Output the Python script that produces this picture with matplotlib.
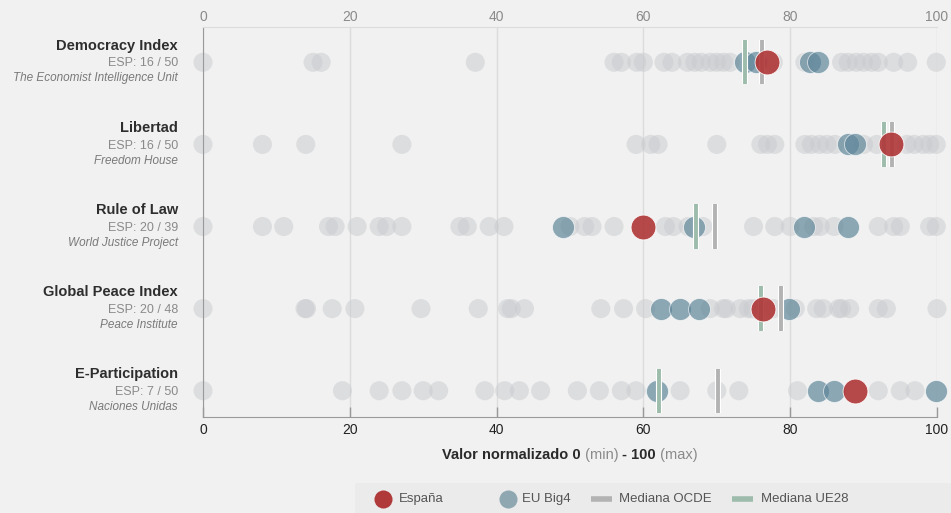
import matplotlib
matplotlib.use("Agg")
import matplotlib.pyplot as plt
import matplotlib.patheffects as pe
from matplotlib.lines import Line2D
from matplotlib.patches import Rectangle

plt.rcParams['font.family'] = ['Liberation Sans', 'DejaVu Sans']

# Indices (normalized 0-100)
indices = ["Democracy Index", "Libertad", "Rule of Law", "Global Peace Index", "E-Participation"]
ranks = ["ESP: 16 / 50", "ESP: 16 / 50", "ESP: 20 / 39", "ESP: 20 / 48", "ESP: 7 / 50"]
sources = ["The Economist Intelligence Unit", "Freedom House", "World Justice Project",
           "Peace Institute", "Naciones Unidas"]

others = [
    [0, 15.0, 16.1, 37.1, 56.0, 57.0, 59.1, 60.0, 62.8, 63.9, 66.0, 67.0, 67.9, 69.1,
     70.0, 70.9, 71.8, 77.7, 82.0, 87.0, 87.9, 89.0, 90.0, 91.1, 92.0, 94.1, 96.0, 99.9],
    [0, 8.1, 14.0, 27.1, 59.0, 61.0, 62.0, 70.0, 76.0, 76.9, 77.9, 82.0, 82.9, 84.0,
     85.0, 86.1, 90.0, 91.8, 95.9, 96.9, 98.1, 99.0, 99.9],
    [0, 8.1, 11.0, 17.1, 18.0, 21.0, 24.0, 25.0, 27.1, 35.0, 36.0, 39.0, 41.0, 50.0,
     52.0, 53.0, 56.0, 63.0, 64.1, 66.1, 68.1, 75.0, 77.9, 80.0, 83.2, 84.1, 86.0,
     92.0, 94.1, 95.0, 99.0, 99.9],
    [0, 13.9, 14.1, 17.6, 20.7, 29.7, 37.5, 41.5, 42.0, 43.8, 54.2, 57.3, 60.3, 69.1,
     70.9, 71.3, 73.2, 74.3, 74.9, 77.7, 80.7, 83.6, 84.5, 86.6, 87.0, 88.1, 92.0,
     93.1, 100],
    [0, 19.0, 24.0, 27.1, 30.0, 32.1, 38.4, 41.1, 43.1, 46.0, 51.0, 54.0, 57.0, 59.0,
     65.0, 70.0, 73.0, 81.0, 92.0, 95.0, 97.0],
]
big4 = [
    [73.8, 75.4, 82.7, 83.8],
    [87.9, 88.8],
    [49.0, 66.9, 81.9, 87.9],
    [62.4, 65.0, 67.6, 79.8],
    [61.9, 83.8, 85.9, 99.8],
]
espana = [76.9, 93.8, 60.0, 76.3, 88.8]
median_ocde = [76.2, 93.9, 69.8, 78.8, 70.2]
median_ue28 = [73.9, 92.8, 67.1, 76.0, 62.1]
xticks = [0, 20, 40, 60, 80, 100]

BG = "#f1f1f1"
RED = "#b0393a"
BLUE = "#5d8598"
GREY_DOT = "#c9cbce"
OCDE_C = "#b3b3b3"
UE28_C = "#9dbcab"

fig = plt.figure(figsize=(9.51, 5.13), dpi=100, facecolor=BG)
W, H = 951, 513
ax = fig.add_axes([203 / W, 1 - 417 / H, 734 / W, 390 / H], facecolor=BG)

bar_fx = [pe.Stroke(linewidth=4.4, foreground="white"), pe.Normal()]
for i in range(len(indices)):
    ax.scatter(others[i], [i] * len(others[i]), s=190, color=GREY_DOT, alpha=0.5,
               edgecolors="none", zorder=2, clip_on=False)
    ax.scatter(big4[i], [i] * len(big4[i]), s=250, color=BLUE, alpha=0.68,
               edgecolors="white", linewidths=0.6, zorder=3, clip_on=False)
    ax.vlines(median_ocde[i], i - 0.27, i + 0.27, color=OCDE_C, linewidth=2.8,
              zorder=4, path_effects=bar_fx)
    ax.vlines(median_ue28[i], i - 0.27, i + 0.27, color=UE28_C, linewidth=2.8,
              zorder=4, path_effects=bar_fx)
    ax.scatter([espana[i]], [i], s=320, color=RED, alpha=0.92,
               edgecolors="white", linewidths=0.6, zorder=5, clip_on=False)

    # row labels on the left
    ax.annotate(indices[i], xy=(0, i), xycoords=("axes fraction", "data"),
                xytext=(-18, 11.8), textcoords="offset points", ha="right", va="center",
                fontsize=10.5, fontweight="bold", color="#2e2e2e")
    ax.annotate(ranks[i], xy=(0, i), xycoords=("axes fraction", "data"),
                xytext=(-18, -0.8), textcoords="offset points", ha="right", va="center",
                fontsize=9, color="#8a8a8a")
    ax.annotate(sources[i], xy=(0, i), xycoords=("axes fraction", "data"),
                xytext=(-18, -11.6), textcoords="offset points", ha="right", va="center",
                fontsize=8.5, style="italic", color="#7a7a7a")

ax.set_xlim(0, 100)
ax.set_ylim(4.32, -0.43)
ax.set_yticks([])
ax.set_xticks(xticks)
ax.grid(axis="x", color="#dcdcdc", linewidth=1, zorder=0)
ax.set_axisbelow(True)

ax.tick_params(axis="x", direction="in", length=7, width=1, color="#999999",
               labelsize=10, labelcolor="#222222", pad=4)
ax.spines["top"].set_color("#dcdcdc")
ax.spines["right"].set_visible(False)
ax.spines["left"].set_color("#999999")
ax.spines["bottom"].set_color("#999999")

# grey tick labels along the top
top = ax.secondary_xaxis("top")
top.set_xticks(xticks)
top.tick_params(length=0, pad=2.5, labelsize=10, labelcolor="#8a8a8a")
top.spines["top"].set_visible(False)

# axis title with mixed weights
parts = [("Valor normalizado 0", "bold", "#2a2a2a"), (" (min) ", "normal", "#8a8a8a"),
         ("- 100", "bold", "#2a2a2a"), (" (max)", "normal", "#8a8a8a")]
prev = fig.text(442 / W, 1 - 455 / H, parts[0][0], fontsize=10.5, fontweight=parts[0][1],
                color=parts[0][2], ha="left", va="center")
for txt, wt, col in parts[1:]:
    prev = ax.annotate(txt, xy=(1, 0), xycoords=prev, xytext=(0, 0),
                       textcoords="offset points", ha="left", va="bottom",
                       fontsize=10.5, fontweight=wt, color=col, annotation_clip=False)

# legend strip
fig.patches.append(Rectangle((355 / W, 0), (W - 355) / W, 30 / H, transform=fig.transFigure,
                             facecolor="#ebebeb", edgecolor="none", zorder=0))
ly = 1 - 499 / H
fig.add_artist(Line2D([383 / W], [ly], marker="o", markersize=13, color=RED,
                      markeredgecolor="none", transform=fig.transFigure))
fig.add_artist(Line2D([508 / W], [ly], marker="o", markersize=13, color="#8fa7b1",
                      markeredgecolor="none", transform=fig.transFigure))
fig.add_artist(Line2D([591 / W, 612 / W], [ly, ly], linewidth=4, color=OCDE_C,
                      transform=fig.transFigure, solid_capstyle="butt"))
fig.add_artist(Line2D([732 / W, 753 / W], [ly, ly], linewidth=4, color=UE28_C,
                      transform=fig.transFigure, solid_capstyle="butt"))
for x, s in [(399, "España"), (522, "EU Big4"), (619, "Mediana OCDE"), (761, "Mediana UE28")]:
    fig.text(x / W, ly, s, fontsize=9.5, color="#555555", ha="left", va="center")

fig.savefig("out.png", dpi=100, facecolor=BG)
